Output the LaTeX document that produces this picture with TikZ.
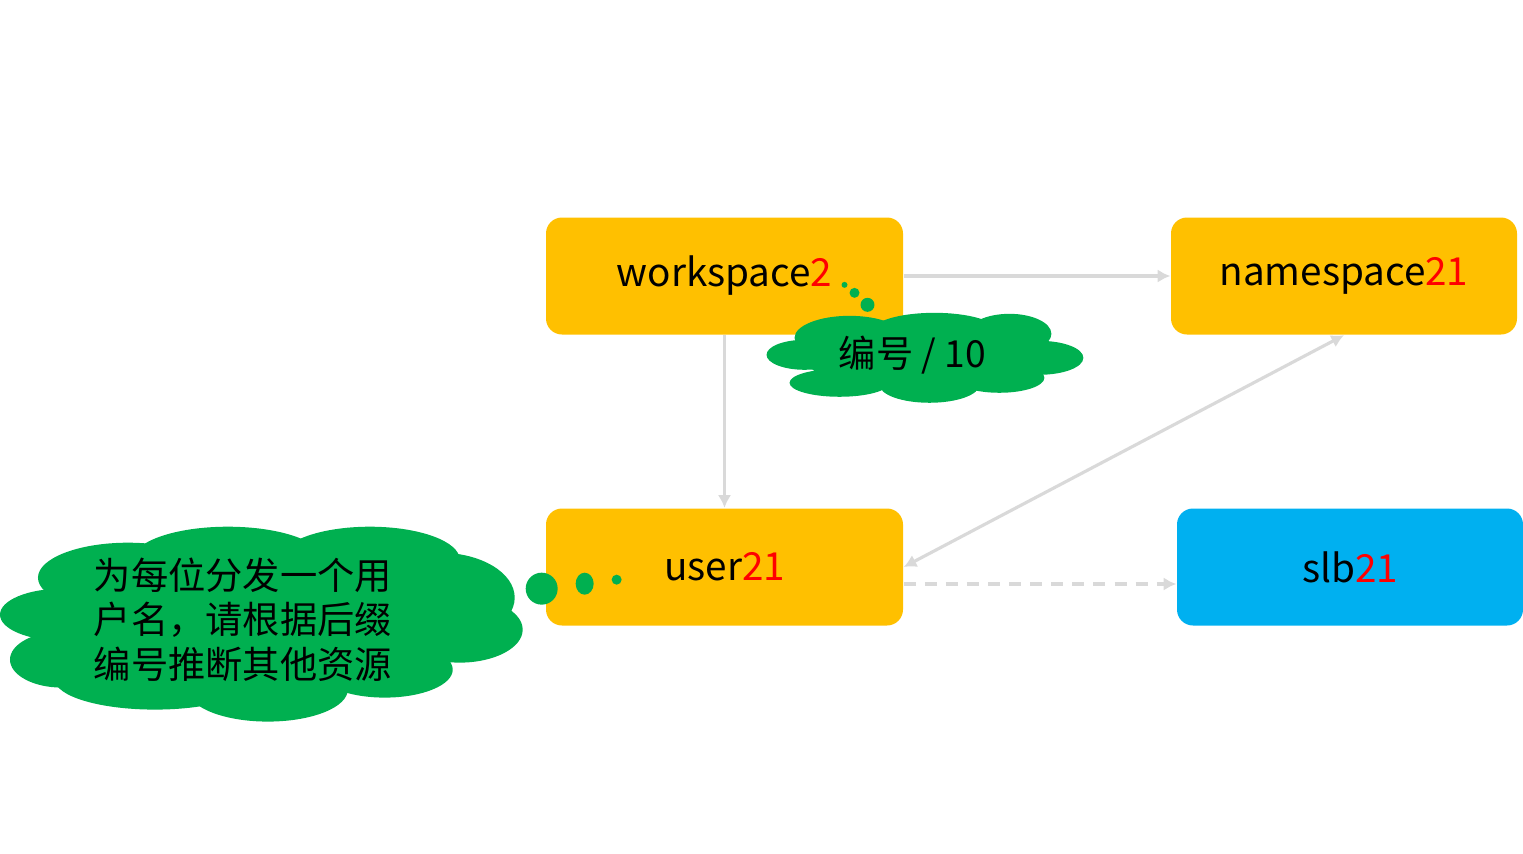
\documentclass[tikz,border=0pt]{standalone}
\usepackage{fontspec}
\setmainfont{Noto Sans CJK SC}
\usetikzlibrary{arrows.meta}
\definecolor{boxyellow}{HTML}{FFC000}
\definecolor{boxblue}{HTML}{00B0F0}
\definecolor{cloudgreen}{HTML}{00B050}
\definecolor{linkgray}{HTML}{D9D9D9}
\tikzset{
  resbox/.style={rectangle,rounded corners=0.16cm,minimum width=3.57cm,minimum height=1.17cm,
    inner sep=0pt,font=\fontsize{11}{13}\selectfont},
  link/.style={draw=linkgray,line width=0.9pt,-{Latex[length=3.6pt,width=3.8pt]}},
  cloudtext/.style={font=\fontsize{10.6}{12.75}\selectfont,inner sep=0pt}
}
\begin{document}
\begin{tikzpicture}
\useasboundingbox (0,0) rectangle (15.23,8.53);
% the four resources
\node[resbox,fill=boxyellow] (ws) at (7.245,5.77) {workspace\textcolor{red}{2}};
\node[resbox,fill=boxyellow,minimum width=3.46cm] (ns) at (13.44,5.77) {namespace\textcolor{red}{21}};
\node[resbox,fill=boxyellow] (user) at (7.245,2.86) {user\textcolor{red}{21}};
\node[resbox,fill=boxblue,minimum width=3.46cm] (slb) at (13.50,2.86) {slb\textcolor{red}{21}};
%links between them:
\draw[link] (ws.east) -- (ns.west);
\draw[link] (ws.south) -- (user.north);
\draw[link,{Latex[length=3.6pt,width=3.8pt]}-{Latex[length=3.6pt,width=3.8pt]}] (ns.south) -- (user.east);
\draw[link,dash pattern=on 3.4pt off 2.6pt] ([yshift=-0.17cm]user.east) -- ([yshift=-0.17cm]slb.west);
%Thought clouds, in pixel units of the page:
\begin{scope}[x=0.01cm,y=-0.01cm,yshift=8.53cm]
\foreach \cx/\cy/\rx/\ry in {925/358/120/33, 850/338/55/22, 935/331/62/18, 1010/334/42/20,
    1040/358/44/17, 1000/378/45/15, 930/385/50/18, 840/383/50/14, 805/355/38/15}
  \fill[cloudgreen] (\cx,\cy) ellipse[x radius=\rx,y radius=\ry];
\fill[cloudgreen] (845,285) circle[radius=3];
\fill[cloudgreen] (855,293) circle[radius=5];
\fill[cloudgreen] (868,305) circle[radius=7];
\foreach \cx/\cy/\rx/\ry in {262/624/220/75, 128/578/90/35, 228/560/95/33, 370/560/90/33,
    440/598/75/45, 460/630/63/33, 62/615/62/26, 62/660/52/28, 155/680/100/30,
    268/690/80/32, 385/670/68/28}
  \fill[cloudgreen] (\cx,\cy) ellipse[x radius=\rx,y radius=\ry];
\fill[cloudgreen] (542,589) ellipse[x radius=16,y radius=16];
\fill[cloudgreen] (585,584) ellipse[x radius=9,y radius=11];
\fill[cloudgreen] (617,580) circle[radius=5];
\node[cloudtext] (idtext) at (913,355) {编号 / 10};
\node[cloudtext,align=left] (hinttext) at (243,620)
  {为每位分发一个用\\户名，请根据后缀\\编号推断其他资源};
\end{scope}
\end{tikzpicture}
\end{document}
